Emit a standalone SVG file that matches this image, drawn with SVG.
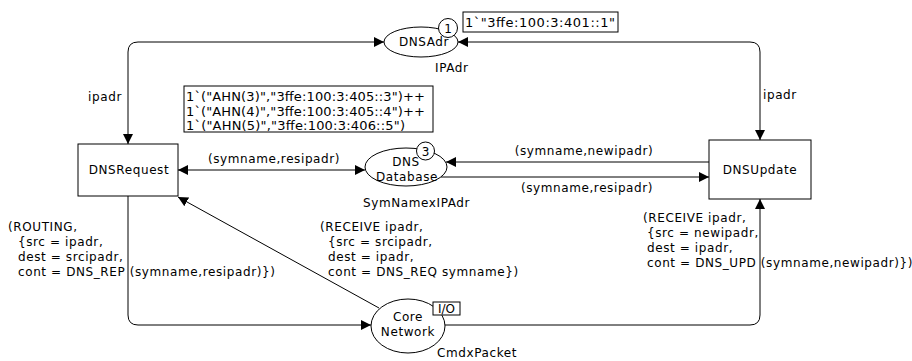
<svg xmlns="http://www.w3.org/2000/svg" width="912" height="361" viewBox="0 0 912 361">
<defs>
<marker id="arr" markerUnits="userSpaceOnUse" markerWidth="11" markerHeight="11" refX="10" refY="5" orient="auto-start-reverse">
<path d="M0,0 L10,5 L0,10 z" fill="#000"/>
</marker>
<style>
text{font-family:"DejaVu Sans","Liberation Sans",sans-serif;font-size:12px;fill:#000;letter-spacing:0.6px}
.c{text-anchor:middle}
.m{font-size:13px;letter-spacing:0}
.node{fill:#fff;stroke:#000;stroke-width:1}
.box{fill:#fff;stroke:#000;stroke-width:1}
.arc{fill:none;stroke:#000;stroke-width:1}
</style>
</defs>
<rect width="912" height="361" fill="#fff"/>
<g id="connectors">
<path class="arc" d="M384,42 L138,42 Q128,42 128,52 L128,144" marker-start="url(#arr)" marker-end="url(#arr)"/>
<path class="arc" d="M458,42 L750,42 Q760,42 760,52 L760,140" marker-start="url(#arr)" marker-end="url(#arr)"/>
<path class="arc" d="M178,170 L365,170" marker-start="url(#arr)" marker-end="url(#arr)"/>
<path class="arc" d="M709,162 L446,162" marker-end="url(#arr)"/>
<path class="arc" d="M441,177 L709,177" marker-end="url(#arr)"/>
<path class="arc" d="M128,196 L128,315 Q128,325 138,325 L371,325" marker-end="url(#arr)"/>
<path class="arc" d="M379,308 L178,197" marker-end="url(#arr)"/>
<path class="arc" d="M445,325 L750,325 Q760,325 760,315 L760,199" marker-end="url(#arr)"/>
<text x="105" y="101" class="c">ipadr</text>
<text x="763" y="99">ipadr</text>
<text x="274" y="163" class="c">(symname,resipadr)</text>
<text x="584" y="155" class="c">(symname,newipadr)</text>
<text x="587" y="192" class="c">(symname,resipadr)</text>
<text x="8" y="231">(ROUTING,</text>
<text x="18" y="246">{src = ipadr,</text>
<text x="18" y="261">dest = srcipadr,</text>
<text x="18" y="276">cont = DNS_REP (symname,resipadr)})</text>
<text x="320" y="231">(RECEIVE ipadr,</text>
<text x="328" y="246">{src = srcipadr,</text>
<text x="328" y="261">dest = ipadr,</text>
<text x="328" y="276">cont = DNS_REQ symname})</text>
<text x="643" y="222">(RECEIVE ipadr,</text>
<text x="647" y="237">{src = newipadr,</text>
<text x="647" y="252">dest = ipadr,</text>
<text x="647" y="267">cont = DNS_UPD (symname,newipadr)})</text>
</g>
<g id="DNSAdr">
<ellipse class="node" cx="421" cy="42" rx="37" ry="15"/>
<text x="424" y="46" class="c">DNSAdr</text>
<circle class="node" cx="448" cy="28" r="9.5"/>
<text x="448" y="33" class="c" style="letter-spacing:0">1</text>
<text x="435" y="72">IPAdr</text>
<rect class="box" x="463" y="12" width="155" height="20"/>
<text x="465" y="27" class="m" textLength="150">1`"3ffe:100:3:401::1"</text>
</g>
<g id="DNSDatabase">
<ellipse class="node" cx="406" cy="167" rx="41" ry="19"/>
<text x="406" y="166" class="c">DNS</text>
<text x="407" y="181" class="c">Database</text>
<circle class="node" cx="425.5" cy="151" r="9"/>
<text x="425.5" y="156" class="c" style="letter-spacing:0">3</text>
<text x="363" y="207">SymNamexIPAdr</text>
<rect class="box" x="184" y="86" width="249" height="46"/>
<text x="186" y="101" class="m" textLength="239">1`("AHN(3)","3ffe:100:3:405::3")++</text>
<text x="186" y="116" class="m" textLength="239">1`("AHN(4)","3ffe:100:3:405::4")++</text>
<text x="186" y="130" class="m" textLength="219">1`("AHN(5)","3ffe:100:3:406::5")</text>
</g>
<g id="DNSRequest">
<rect class="box" x="78" y="144" width="100" height="52"/>
<text x="129" y="174" class="c">DNSRequest</text>
</g>
<g id="DNSUpdate">
<rect class="box" x="709" y="140" width="102" height="59"/>
<text x="760" y="174" class="c">DNSUpdate</text>
</g>
<g id="CoreNetwork">
<ellipse class="node" cx="408" cy="326" rx="37" ry="27"/>
<text x="408" y="321" class="c">Core</text>
<text x="408" y="336" class="c">Network</text>
<rect class="box" x="433" y="302" width="27" height="13"/>
<text x="446.5" y="313" class="c" style="letter-spacing:0">I/O</text>
<text x="437" y="357">CmdxPacket</text>
</g>
</svg>
